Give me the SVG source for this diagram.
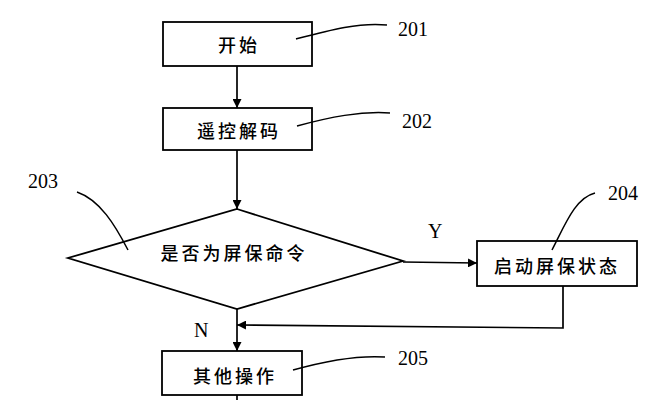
<svg xmlns="http://www.w3.org/2000/svg" width="651" height="400" viewBox="0 0 651 400">
<defs>
<marker id="ah" viewBox="0 0 10 10" refX="10" refY="5" markerWidth="9" markerHeight="9" markerUnits="userSpaceOnUse" orient="auto">
<path d="M0,0 L10,5 L0,10 Z" fill="#000"/>
</marker>
<style>
.box{fill:#fff;stroke:#000;stroke-width:1.8}
.ln{fill:none;stroke:#000;stroke-width:1.7}
.ld{fill:none;stroke:#000;stroke-width:1.5}
.cj{font-family:"Noto Sans CJK SC","Noto Sans CJK JP",sans-serif;font-size:18px;font-weight:500;letter-spacing:3px;fill:#000;text-anchor:middle;dominant-baseline:central}
.nm{font-family:"Liberation Serif","Times New Roman",serif;font-size:20px;fill:#000}
</style>
</defs>
<rect width="651" height="400" fill="#fff"/>
<g id="connectors">
<line class="ln" x1="237" y1="66" x2="237" y2="108" marker-end="url(#ah)"/>
<line class="ln" x1="237" y1="150" x2="237" y2="209" marker-end="url(#ah)"/>
<line class="ln" x1="403" y1="262" x2="477" y2="263" marker-end="url(#ah)"/>
<polyline class="ln" points="563,286 563,328 237,325" marker-end="url(#ah)"/>
<line class="ln" x1="237" y1="309" x2="237" y2="351" marker-end="url(#ah)"/>
<line class="ln" x1="237" y1="395" x2="237" y2="400"/>
<text class="nm" x="428" y="238">Y</text>
<text class="nm" x="194" y="337">N</text>
</g>
<g id="n201">
<rect class="box" x="163" y="22" width="149" height="44"/>
<text class="cj" x="239" y="44">开始</text>
<path class="ld" d="M296,39 C330,30 360,22 387,25"/>
<text class="nm" x="398" y="36">201</text>
</g>
<g id="n202">
<rect class="box" x="163" y="108" width="149" height="42"/>
<text class="cj" x="239" y="130">遥控解码</text>
<path class="ld" d="M297,126 C330,117 360,111 390,113"/>
<text class="nm" x="402" y="128">202</text>
</g>
<g id="n203">
<polygon class="box" points="237,209 403,261 237,309 68,258"/>
<text class="cj" x="234" y="252">是否为屏保命令</text>
<path class="ld" d="M77,192 C100,200 115,225 128,250"/>
<text class="nm" x="28" y="188">203</text>
</g>
<g id="n204">
<rect class="box" x="477" y="241" width="160" height="45"/>
<text class="cj" x="557" y="265">启动屏保状态</text>
<path class="ld" d="M552,250 C565,225 575,198 595,193"/>
<text class="nm" x="608" y="200">204</text>
</g>
<g id="n205">
<rect class="box" x="162" y="351" width="140" height="44"/>
<text class="cj" x="235" y="375">其他操作</text>
<path class="ld" d="M293,370 C325,361 355,355 385,357"/>
<text class="nm" x="398" y="365">205</text>
</g>
</svg>
